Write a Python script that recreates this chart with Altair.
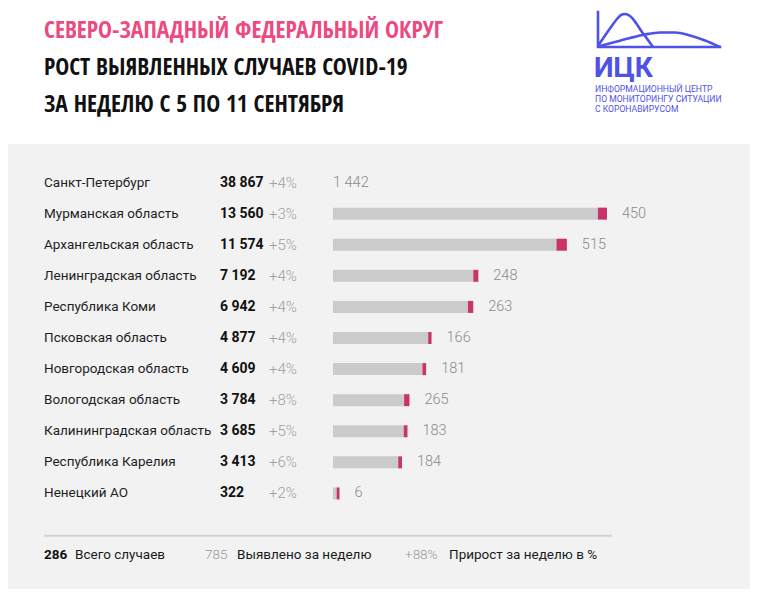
import altair as alt
import pandas as pd

# ---------------- data ----------------
regions = ["Санкт-Петербург", "Мурманская область", "Архангельская область",
           "Ленинградская область", "Республика Коми", "Псковская область",
           "Новгородская область", "Вологодская область", "Калининградская область",
           "Республика Карелия", "Ненецкий АО"]
totals = [38867, 13560, 11574, 7192, 6942, 4877, 4609, 3784, 3685, 3413, 322]
growth = ["+4%", "+3%", "+5%", "+4%", "+4%", "+4%", "+4%", "+8%", "+5%", "+6%", "+2%"]
weekly = [1442, 450, 515, 248, 263, 166, 181, 265, 183, 184, 6]

title_lines = ["СЕВЕРО-ЗАПАДНЫЙ ФЕДЕРАЛЬНЫЙ ОКРУГ",
               "РОСТ ВЫЯВЛЕННЫХ СЛУЧАЕВ COVID-19",
               "ЗА НЕДЕЛЮ С 5 ПО 11 СЕНТЯБРЯ"]
logo_name = "ИЦК"
logo_caption = ["ИНФОРМАЦИОННЫЙ ЦЕНТР", "ПО МОНИТОРИНГУ СИТУАЦИИ", "С КОРОНАВИРУСОМ"]
footer_values = ["286", "785", "+88%"]
footer_labels = ["Всего случаев", "Выявлено за неделю", "Прирост за неделю в %"]

# logo outline (icon shape, page pixel units)
logo_frame_x = [598, 598, 720]
logo_frame_y = [12, 47, 47]
logo_peak_x = [598, 604, 611, 617, 621, 625, 630, 636, 642, 648, 653]
logo_peak_y = [46, 37, 27, 19, 15, 14, 16, 23, 32, 40, 47]
logo_wide_x = [600, 615, 630, 645, 660, 675, 690, 705, 720]
logo_wide_y = [46, 42, 38, 34.5, 32.5, 32.5, 35.5, 40.5, 47]

# ---------------- styling ----------------
W, H = 742, 581
OFF = 8  # page margin
BODY = "Roboto"
TITLE = "Open Sans Condensed, Roboto Condensed"
PINK_T = "#ec4a80"
BLUE = "#4f52e6"
BAR_GRAY = "#cbcbcb"
BAR_PINK = "#c8336a"
GRAY_T = "#8a8a8a"
BAR_MAX = 13560

def fmt(v):
    return f"{v:,}".replace(",", " ")

df = pd.DataFrame({
    "region": regions,
    "total": totals,
    "growth": growth,
    "weekly": weekly,
    "total_lbl": [fmt(v) for v in totals],
    "weekly_lbl": [fmt(v) for v in weekly],
})

one = pd.DataFrame({"t": [""]})

def txt(s, x, y, size, color="#1a1a1a", font=BODY, weight="normal", align="left", baseline="middle"):
    return alt.Chart(pd.DataFrame({"t": [s]})).mark_text(
        font=font, fontSize=size, color=color, fontWeight=weight,
        align=align, baseline=baseline
    ).encode(x=alt.value(x), y=alt.value(y), text="t:N")

yscale = alt.Scale(domain=regions, range=[159, 501], paddingInner=0, paddingOuter=0)
Y = alt.Y("region:N", scale=yscale, axis=None, sort=regions)
xbar = alt.Scale(domain=[0, BAR_MAX], range=[325, 599])

layers = []
# panel background
layers.append(alt.Chart(one).mark_rect(color="#f2f2f2").encode(
    x=alt.value(-20), x2=alt.value(W + 20), y=alt.value(136), y2=alt.value(H + 20)))

# titles
for i, (line, yb) in enumerate(zip(title_lines, [29.5, 66.5, 103.5])):
    layers.append(txt(line, 36, yb, 23.5, color=PINK_T if i == 0 else "#111111",
                      font=TITLE, weight="bold", baseline="alphabetic"))

# logo shapes
lx = alt.Scale(domain=[OFF, W + OFF], range=[0, W])
ly = alt.Scale(domain=[OFF, H + OFF], range=[0, H])
frame = pd.DataFrame({"x": logo_frame_x, "y": logo_frame_y, "o": range(len(logo_frame_x))})
peak = pd.DataFrame({"x": logo_peak_x, "y": logo_peak_y})
wide = pd.DataFrame({"x": logo_wide_x, "y": logo_wide_y})
layers.append(alt.Chart(frame).mark_line(color=BLUE, strokeWidth=2.6, strokeCap="square").encode(
    x=alt.X("x:Q", scale=lx, axis=None), y=alt.Y("y:Q", scale=ly, axis=None), order="o:Q"))
for d in (peak, wide):
    layers.append(alt.Chart(d).mark_line(color=BLUE, strokeWidth=2.6, interpolate="monotone").encode(
        x=alt.X("x:Q", scale=lx, axis=None), y=alt.Y("y:Q", scale=ly, axis=None)))
layers.append(txt(logo_name, 586, 69, 28, color=BLUE, weight="bold", baseline="alphabetic"))
for line, yc in zip(logo_caption, [89, 99, 108.5]):
    layers.append(txt(line, 587, yc - OFF, 8.6, color=BLUE))

# table columns
base = alt.Chart(df)
layers.append(base.mark_text(font=BODY, fontSize=13.5, color="#1f1f1f", align="left", baseline="middle")
              .encode(y=Y, x=alt.value(36), text="region:N"))
layers.append(base.mark_text(font=BODY, fontSize=14, fontWeight="bold", color="#111111", align="left", baseline="middle")
              .encode(y=Y, x=alt.value(212), text="total_lbl:N"))
layers.append(base.mark_text(font=BODY, fontSize=15, fontWeight=300, color="#a0a0a0", align="left", baseline="middle")
              .encode(y=Y, x=alt.value(261), text="growth:N"))

# bars
bars = base.transform_filter(alt.datum.total <= BAR_MAX).transform_calculate(
    pstart="datum.total - max(datum.weekly, 140)")
layers.append(bars.mark_bar(color=BAR_GRAY, size=12).encode(
    y=Y, x=alt.X("zero:Q", scale=xbar, axis=None), x2="pstart:Q").transform_calculate(zero="0"))
layers.append(bars.mark_bar(color=BAR_PINK, size=12).encode(
    y=Y, x=alt.X("pstart:Q", scale=xbar, axis=None), x2="total:Q"))
layers.append(bars.mark_text(font=BODY, fontSize=14.5, fontWeight=300, color=GRAY_T, align="left",
                             baseline="middle", dx=15).encode(
    y=Y, x=alt.X("total:Q", scale=xbar, axis=None), text="weekly_lbl:N"))
layers.append(base.transform_filter(alt.datum.total > BAR_MAX).mark_text(
    font=BODY, fontSize=14.5, fontWeight=300, color=GRAY_T, align="left", baseline="middle").encode(
    y=Y, x=alt.value(325), text="weekly_lbl:N"))

# footer
layers.append(alt.Chart(one).mark_rule(color="#d2d2d2", strokeWidth=2).encode(
    x=alt.value(36), x2=alt.value(604), y=alt.value(527.7)))
for val, lab, xv, xl, col, wt in zip(footer_values, footer_labels, [36, 197, 397], [67, 229, 441],
                                    ["#111111", "#9a9a9a", "#9a9a9a"], ["bold", 300, 300]):
    layers.append(txt(val, xv, 547, 13.5, color=col, weight=wt))
    layers.append(txt(lab, xl, 547, 13.5, color="#1a1a1a"))

chart = alt.layer(*layers).resolve_scale(x="independent", y="independent").properties(
    width=W, height=H, autosize="none", padding=0, background="#ffffff"
).configure_view(stroke=None)

chart.save("out.html", embed_options={"renderer": "svg", "actions": False})
